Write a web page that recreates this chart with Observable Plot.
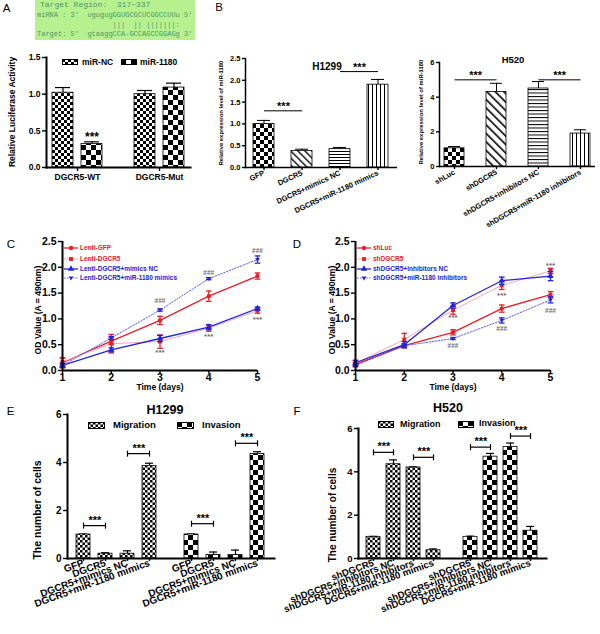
<!DOCTYPE html>
<html><head><meta charset="utf-8">
<script src="https://cdn.jsdelivr.net/npm/d3@7"></script>
<script src="https://cdn.jsdelivr.net/npm/@observablehq/plot@0.6"></script>
<style>
html,body{margin:0;padding:0;background:#fff;}
#root{position:relative;width:600px;height:634px;overflow:hidden;background:#fff;}
g[aria-label$="axis tick"]{stroke-width:1.4px;}
</style></head><body><div id="root"></div>
<script>
// ---------------- DATA ----------------
// Panel A
const aGroups = ["DGCR5-WT", "DGCR5-Mut"];
const aSeries = ["miR-NC", "miR-1180"];
const aNC = [1.02, 1.00];
const aNCErr = [0.07, 0.05];
const a1180 = [0.32, 1.09];
const a1180Err = [0.03, 0.06];
const aTicks = [0, 0.5, 1.0, 1.5];
const seqLines = [
  "Target Region:  317~337",
  "miRNA : 3'  ugugugGGUGCGCUCGGCCUUu 5'",
  "                  |||  || |||||||:",
  "Target: 5'  gtaaggCCA-GCCAGCCGGAGg 3'"
];
// Panel B (H1299)
const b1Cats = ["GFP", "DGCR5", "DGCR5+mimics NC", "DGCR5+miR-1180 mimics"];
const b1Vals = [1.0, 0.38, 0.42, 1.9];
const b1Err = [0.08, 0.04, 0.04, 0.12];
const b1Ticks = [0, 0.5, 1.0, 1.5, 2.0, 2.5];
const b1Sig = [1.3, 2.2];
// Panel B (H520)
const b2Cats = ["shLuc", "shDGCR5", "shDGCR5+inhibitors NC", "shDGCR5+miR-1180 inhibitors"];
const b2Vals = [1.05, 4.3, 4.5, 1.9];
const b2Err = [0.1, 0.5, 0.4, 0.22];
const b2Ticks = [0, 2, 4, 6];
const b2Sig = [5.0, 5.0];
// Panels C / D
const days = [1, 2, 3, 4, 5];
const cNames = ["Lenti-GFP", "Lenti-DGCR5", "Lenti-DGCR5+mimics NC", "Lenti-DGCR5+miR-1180 mimics"];
const cGFP = [0.15, 0.57, 0.97, 1.44, 1.83];
const cGFPErr = [0.1, 0.06, 0.08, 0.1, 0.06];
const cDGCR5 = [0.17, 0.52, 0.56, 0.82, 1.16];
const cDGCR5Err = [0.07, 0.18, 0.13, 0.06, 0.05];
const cNC = [0.1, 0.4, 0.62, 0.84, 1.2];
const cNCErr = [0.04, 0.04, 0.06, 0.05, 0.03];
const cMim = [0.1, 0.63, 1.17, 1.78, 2.15];
const cMimErr = [0.03, 0.03, 0.02, 0.02, 0.07];
const cMarkDays = [3, 4, 5];
const cHashY = [1.34, 1.9, 2.31];
const cStarY = [0.35, 0.66, 0.99];
const dNames = ["shLuc", "shDGCR5", "shDGCR5+inhibitors NC", "shDGCR5+miR-1180 inhibitors"];
const dShLuc = [0.12, 0.48, 0.74, 1.2, 1.47];
const dShLucErr = [0.04, 0.04, 0.05, 0.07, 0.06];
const dShDGCR5 = [0.14, 0.6, 1.17, 1.65, 1.93];
const dShDGCR5Err = [0.05, 0.12, 0.08, 0.08, 0.05];
const dNC = [0.15, 0.5, 1.26, 1.74, 1.83];
const dNCErr = [0.05, 0.06, 0.05, 0.07, 0.09];
const dInh = [0.1, 0.48, 0.62, 0.97, 1.37];
const dInhErr = [0.03, 0.03, 0.02, 0.05, 0.06];
const dStarY = [1.03, 1.45, 2.03];
const dHashY = [0.48, 0.81, 1.16];
const odTicks = [0, 0.5, 1.0, 1.5, 2.0, 2.5];
// Panel E (H1299)
const eGroups = ["Migration", "Invasion"];
const eCats = ["GFP", "DGCR5", "DGCR5+mimics NC", "DGCR5+miR-1180 mimics"];
const eMig = [1.0, 0.2, 0.2, 3.85];
const eMigErr = [0.02, 0.04, 0.12, 0.12];
const eInv = [1.0, 0.15, 0.15, 4.35];
const eInvErr = [0.02, 0.12, 0.2, 0.1];
const eMigSig = [1.37, 4.37];
const eInvSig = [1.45, 4.8];
const cellTicks = [0, 2, 4, 6];
// Panel F (H520)
const fCats = ["shDGCR5", "shDGCR5+inhibitors NC", "shDGCR5+miR-1180 inhibitors", "DGCR5+miR-1180 mimics"];
const fMig = [1.0, 4.35, 4.2, 0.38];
const fMigErr = [0.02, 0.2, 0.03, 0.06];
const fInv = [1.0, 4.7, 5.15, 1.28];
const fInvErr = [0.03, 0.15, 0.18, 0.2];
const fMigSig = [4.9, 4.67];
const fInvSig = [5.14, 5.65];

// ---------------- STYLE ----------------
const SANS = "'Liberation Sans', Arial, sans-serif";
const RED = "#e8202a", BLUE = "#2323dd", PINK = "#f5a9bb", LBLUE = "#4f4ff5", GRAY = "#6e6e6e";
const root = d3.select("#root");

// patterns
const defs = root.append("svg").attr("width", 1).attr("height", 1)
  .style("position", "absolute").style("left", "0px").style("top", "0px").append("defs");
function checker(id, s) {
  const p = defs.append("pattern").attr("id", id).attr("patternUnits", "userSpaceOnUse")
    .attr("width", 2 * s).attr("height", 2 * s);
  p.append("rect").attr("width", 2 * s).attr("height", 2 * s).attr("fill", "#fff");
  p.append("rect").attr("width", s).attr("height", s).attr("fill", "#000");
  p.append("rect").attr("x", s).attr("y", s).attr("width", s).attr("height", s).attr("fill", "#000");
}
function stripes(id, gap, w, rot) {
  const p = defs.append("pattern").attr("id", id).attr("patternUnits", "userSpaceOnUse")
    .attr("width", gap).attr("height", gap).attr("patternTransform", `rotate(${rot})`);
  p.append("rect").attr("width", gap).attr("height", gap).attr("fill", "#fff");
  p.append("rect").attr("width", w).attr("height", gap).attr("fill", "#000");
}
checker("chk25", 2.5); checker("chk3", 3); checker("chk4", 4); checker("chk5", 5);
stripes("diag5", 5, 1.4, -45); stripes("diag6", 6, 1.6, -45);
stripes("hor3", 3, 1, 90); stripes("hor35", 3.5, 1, 90);
stripes("ver4", 4, 1, 0);

const capSym = {draw(ctx, size) { const r = Math.sqrt(size / Math.PI); ctx.moveTo(-r, 0); ctx.lineTo(r, 0); }};
const vSym = {draw(ctx, size) { const r = Math.sqrt(size / Math.PI); ctx.moveTo(0, -r); ctx.lineTo(0, r); }};
const invTri = {draw(ctx, size) { const r = Math.sqrt(size / Math.PI); ctx.moveTo(0, r); ctx.lineTo(-r, -r * 0.65); ctx.lineTo(r, -r * 0.65); ctx.closePath(); }};

const baseStyle = (fs) => ({fontFamily: SANS, fontWeight: "bold", fontSize: fs + "px", background: "transparent", overflow: "visible", color: "#000"});

function place(node, left, top, w) {
  root.append("div").style("position", "absolute").style("left", left + "px").style("top", top + "px")
    .style("width", w + "px").node().appendChild(node);
}
function label(s, x, y, size, opt = {}) {
  const {weight = "bold", color = "#000", anchor = "start", family = SANS} = opt;
  const tx = anchor === "middle" ? "-50%" : anchor === "end" ? "-100%" : "0";
  root.append("div").text(s).style("position", "absolute").style("left", x + "px").style("top", y + "px")
    .style("transform", `translate(${tx},-50%)`).style("white-space", "pre").style("font-family", family)
    .style("font-size", size + "px").style("font-weight", weight).style("color", color).style("line-height", "1");
}
function yLabel(s, cx, cy, size) {
  root.append("div").text(s).style("position", "absolute").style("left", cx + "px").style("top", cy + "px")
    .style("transform", "translate(-50%,-50%) rotate(-90deg)").style("white-space", "nowrap")
    .style("font-family", SANS).style("font-weight", "bold").style("font-size", size + "px").style("line-height", "1");
}
function swatch(x, y, w, h, fill) {
  root.append("svg").attr("width", w).attr("height", h).style("position", "absolute")
    .style("left", x + "px").style("top", (y - h / 2) + "px")
    .append("rect").attr("x", 0.5).attr("y", 0.5).attr("width", w - 1).attr("height", h - 1)
    .attr("fill", fill).attr("stroke", "#000").attr("stroke-width", 1);
}
function lineKey(x, y, st, name) {
  const svg = root.append("svg").attr("width", 16).attr("height", 8).style("position", "absolute")
    .style("left", x + "px").style("top", (y - 4) + "px").style("overflow", "visible");
  svg.append("line").attr("x1", 0).attr("x2", 14).attr("y1", 4).attr("y2", 4)
    .attr("stroke", st.line).attr("stroke-width", st.lw).attr("stroke-dasharray", st.dash || null);
  svg.append("path").attr("transform", "translate(7,4)")
    .attr("d", d3.symbol(st.symbol, Math.PI * st.r * st.r)()).attr("fill", st.color);
  label(name, x + 16, y, 6.5, {color: st.color});
}

// ---------------- PANEL A ----------------
(function () {
  const rows = aGroups.flatMap((g, gi) => [
    {g, s: aSeries[0], v: aNC[gi], e: aNCErr[gi]},
    {g, s: aSeries[1], v: a1180[gi], e: a1180Err[gi]}
  ]);
  const fills = {[aSeries[0]]: "url(#chk3)", [aSeries[1]]: "url(#chk5)"};
  const star = [{g: aGroups[0], s: aSeries[1], y: a1180[0] + a1180Err[0]}];
  const p = Plot.plot({
    width: 200, height: 150, marginTop: 12, marginBottom: 28, marginLeft: 45, marginRight: 10,
    style: baseStyle(8.5),
    fx: {domain: aGroups, paddingInner: 0.25, paddingOuter: 0.0, label: null, axis: "bottom", tickSize: 4, tickPadding: 2},
    x: {domain: aSeries, paddingInner: 0.28, paddingOuter: 0.2, axis: null},
    y: {domain: [0, 1.5], ticks: aTicks, tickFormat: ".1f", label: null, tickSize: 4, tickPadding: 2},
    color: {type: "identity"},
    marks: [
      Plot.ruleX(rows, {fx: "g", x: "s", y1: "v", y2: d => d.v + d.e, strokeWidth: 1.2}),
      Plot.tickY(rows, {fx: "g", x: "s", y: d => d.v + d.e, insetLeft: 3, insetRight: 3, strokeWidth: 1.2}),
      Plot.barY(rows, {fx: "g", x: "s", y: "v", fill: d => fills[d.s], stroke: "#000", strokeWidth: 0.8}),
      Plot.text(star, {fx: "g", x: "s", y: "y", text: () => "***", dy: -1, lineAnchor: "bottom", fontSize: 12}),
      Plot.frame({anchor: "bottom", strokeWidth: 2, facet: "super"}),
      Plot.frame({anchor: "left", strokeWidth: 2, facet: "super"})
    ]
  });
  place(p, 0, 45, 200);
})();

// green sequence box
root.append("div").style("position", "absolute").style("left", "35px").style("top", "0px")
  .style("width", "160px").style("height", "40px").style("background", "#b6f08f");
seqLines.forEach((s, i) => label(s, i === 0 ? 40 : 37, [5, 15, 24.5, 34][i], i === 0 ? 8 : 7,
  {weight: "normal", color: "#4b9a68", family: "'Liberation Mono', 'DejaVu Sans Mono', monospace"}));

// ---------------- PANEL B ----------------
function barPanel(cfg) {
  const rows = cfg.cats.map((c, i) => ({c, v: cfg.vals[i], e: cfg.errs[i], f: cfg.fills[i]}));
  const sig = cfg.sig.map((y, k) => ({a: cfg.cats[2 * k], b: cfg.cats[2 * k + 1], y}));
  const span = cfg.width - cfg.ml - cfg.mr;
  const step = span / (cfg.cats.length - cfg.pi + 2 * cfg.po);
  return Plot.plot({
    width: cfg.width, height: cfg.height, marginTop: cfg.mt, marginBottom: cfg.mb, marginLeft: cfg.ml, marginRight: cfg.mr,
    style: baseStyle(cfg.fs),
    x: {domain: cfg.cats, paddingInner: cfg.pi, paddingOuter: cfg.po, label: null, tickSize: 3, tickPadding: 2, tickRotate: cfg.rot},
    y: {domain: cfg.yDomain, ticks: cfg.ticks, tickFormat: cfg.fmt, label: null, tickSize: 3, tickPadding: 2},
    color: {type: "identity"},
    marks: [
      Plot.ruleX(rows, {x: "c", y1: "v", y2: d => d.v + d.e, strokeWidth: 1}),
      Plot.tickY(rows, {x: "c", y: d => d.v + d.e, insetLeft: cfg.cap, insetRight: cfg.cap, strokeWidth: 1}),
      Plot.barY(rows, {x: "c", y: "v", fill: "f", stroke: "#000", strokeWidth: 0.8}),
      Plot.link(sig, {x1: "a", x2: "b", y1: "y", y2: "y", stroke: "#000", strokeWidth: 1}),
      Plot.text(sig, {x: "a", y: "y", dx: step / 2, dy: -1, text: () => "***", lineAnchor: "bottom", fontSize: cfg.sfs}),
      Plot.ruleY([cfg.yDomain[0]], {strokeWidth: 1.5}),
      Plot.frame({anchor: "left", strokeWidth: 1.5})
    ]
  });
}
place(barPanel({
  cats: b1Cats, vals: b1Vals, errs: b1Err, fills: ["url(#chk4)", "url(#diag5)", "url(#hor3)", "url(#ver4)"],
  sig: b1Sig, yDomain: [0, 2.5], ticks: b1Ticks, fmt: ".1f",
  width: 200, height: 190, mt: 18, mb: 63, ml: 45, mr: 3, pi: 0.44, po: 0.17, rot: -25, fs: 7.5, cap: 4, sfs: 11
}), 200, 40, 200);
place(barPanel({
  cats: b2Cats, vals: b2Vals, errs: b2Err, fills: ["url(#chk4)", "url(#diag6)", "url(#hor35)", "url(#ver4)"],
  sig: b2Sig, yDomain: [0, 6], ticks: b2Ticks, fmt: "d",
  width: 200, height: 190, mt: 22, mb: 64, ml: 39, mr: 5, pi: 0.53, po: 0.11, rot: -30, fs: 7.5, cap: 4, sfs: 11
}), 400, 40, 200);

// ---------------- PANELS C / D ----------------
function linePanel(cfg) {
  const marks = [];
  cfg.series.forEach((vals, k) => {
    const st = cfg.styles[k];
    const rows = days.map((d, i) => ({day: d, v: vals[i]}));
    marks.push(Plot.line(rows, {x: "day", y: "v", stroke: st.line, strokeWidth: st.lw, strokeDasharray: st.dash}));
  });
  cfg.series.forEach((vals, k) => {
    const st = cfg.styles[k];
    const rows = days.map((d, i) => ({day: d, v: vals[i], e: cfg.errs[k][i]}));
    marks.push(
      Plot.ruleX(rows, {x: "day", y1: d => d.v - d.e, y2: d => d.v + d.e, stroke: st.color, strokeWidth: 1.3}),
      Plot.dot(rows, {x: "day", y: d => d.v + d.e, symbol: capSym, r: 2.8, fill: "none", stroke: st.color, strokeWidth: 1.3}),
      Plot.dot(rows, {x: "day", y: d => d.v - d.e, symbol: capSym, r: 2.8, fill: "none", stroke: st.color, strokeWidth: 1.3}),
      Plot.dot(rows, {x: "day", y: "v", symbol: st.symbol, r: st.r, fill: st.color, stroke: "none"})
    );
  });
  const hash = cMarkDays.map((d, i) => ({day: d, y: cfg.hashY[i]}));
  const star = cMarkDays.map((d, i) => ({day: d, y: cfg.starY[i]}));
  marks.push(
    Plot.text(hash, {x: "day", y: "y", text: () => "###", fill: GRAY, fontSize: 6.5}),
    Plot.text(star, {x: "day", y: "y", text: () => "***", fill: GRAY, fontSize: 8}),
    Plot.ruleY([0], {strokeWidth: 2}),
    Plot.ruleX([1], {strokeWidth: 2}),
    Plot.text(["Time (days)"], {frameAnchor: "bottom", dy: 19.5, text: d => d, fontSize: 8.5})
  );
  return Plot.plot({
    width: 300, height: 165, marginTop: 6, marginBottom: 30, marginLeft: cfg.ml, marginRight: cfg.mr,
    style: baseStyle(10.5),
    x: {domain: [1, 5], ticks: days, tickFormat: "d", label: null, tickSize: 3, tickPadding: 0},
    y: {domain: [0, 2.5], ticks: odTicks, tickFormat: ".1f", label: null, tickSize: 4, tickPadding: 2},
    marks
  });
}
const lineStyles = [
  {color: RED, line: RED, lw: 1.3, dash: null, symbol: d3.symbolCircle, r: 2.2},
  {color: RED, line: PINK, lw: 1, dash: null, symbol: d3.symbolSquare, r: 2.2},
  {color: BLUE, line: BLUE, lw: 1.3, dash: null, symbol: d3.symbolTriangle, r: 2.4},
  {color: BLUE, line: LBLUE, lw: 0.9, dash: "1.5,1.5", symbol: invTri, r: 2.4}
];
place(linePanel({series: [cGFP, cDGCR5, cNC, cMim], errs: [cGFPErr, cDGCR5Err, cNCErr, cMimErr],
  styles: lineStyles, hashY: cHashY, starY: cStarY, ml: 62, mr: 43}), 0, 235, 300);
place(linePanel({series: [dShLuc, dShDGCR5, dNC, dInh], errs: [dShLucErr, dShDGCR5Err, dNCErr, dInhErr],
  styles: lineStyles, hashY: dHashY, starY: dStarY, ml: 55, mr: 50}), 300, 235, 300);
[248, 259, 269, 278].forEach((y, i) => lineKey(64, y, lineStyles[i], cNames[i]));
[248, 259, 269, 278].forEach((y, i) => lineKey(357, y, lineStyles[i], dNames[i]));

// ---------------- PANELS E / F ----------------
function groupPanel(cfg) {
  const rows = cfg.groups.flatMap((g, gi) => cfg.cats.map((c, i) => ({g, c, v: cfg.vals[gi][i], e: cfg.errs[gi][i], f: cfg.fills[gi]})));
  const sig = cfg.groups.flatMap((g, gi) => cfg.sig[gi].map((y, k) => ({g, a: cfg.cats[2 * k], b: cfg.cats[2 * k + 1], y})));
  const ends = sig.flatMap(s => [{g: s.g, c: s.a, y: s.y}, {g: s.g, c: s.b, y: s.y}]);
  const span = cfg.width - cfg.ml - cfg.mr;
  const fxStep = span / (cfg.groups.length - cfg.fpi + 2 * cfg.fpo);
  const bw = fxStep * (1 - cfg.fpi);
  const step = bw / (cfg.cats.length - cfg.pi + 2 * cfg.po);
  return Plot.plot({
    width: cfg.width, height: cfg.height, marginTop: cfg.mt, marginBottom: cfg.mb, marginLeft: cfg.ml, marginRight: cfg.mr,
    style: baseStyle(cfg.fs),
    fx: {domain: cfg.groups, paddingInner: cfg.fpi, paddingOuter: cfg.fpo, axis: null, label: null},
    x: {domain: cfg.cats, paddingInner: cfg.pi, paddingOuter: cfg.po, label: null, tickSize: 3, tickPadding: 1, tickRotate: -20},
    y: {domain: [0, 6], ticks: cellTicks, tickFormat: "d", label: null, tickSize: 4, tickPadding: 2},
    color: {type: "identity"},
    marks: [
      Plot.ruleX(rows, {fx: "g", x: "c", y1: "v", y2: d => d.v + d.e, strokeWidth: 1.2}),
      Plot.tickY(rows, {fx: "g", x: "c", y: d => d.v + d.e, insetLeft: 3, insetRight: 3, strokeWidth: 1.2}),
      Plot.barY(rows, {fx: "g", x: "c", y: "v", fill: "f", stroke: "#000", strokeWidth: 0.8}),
      Plot.link(sig, {fx: "g", x1: "a", x2: "b", y1: "y", y2: "y", stroke: "#000", strokeWidth: 1.2}),
      Plot.dot(ends, {fx: "g", x: "c", y: "y", symbol: vSym, r: 3, fill: "none", stroke: "#000", strokeWidth: 1.2}),
      Plot.text(sig, {fx: "g", x: "a", y: "y", dx: step / 2, dy: -2, text: () => "***", lineAnchor: "bottom", fontSize: 11}),
      Plot.frame({anchor: "bottom", strokeWidth: 2, facet: "super"}),
      Plot.frame({anchor: "left", strokeWidth: 2, facet: "super"})
    ]
  });
}
place(groupPanel({groups: eGroups, cats: eCats, vals: [eMig, eInv], errs: [eMigErr, eInvErr],
  fills: ["url(#chk25)", "url(#chk5)"], sig: [eMigSig, eInvSig], fs: 10,
  width: 300, height: 234, mt: 14, mb: 76, ml: 62, mr: 22, fpi: 0.087, fpo: 0.0365, pi: 0.348, po: 0.348}), 0, 400, 300);
place(groupPanel({groups: eGroups, cats: fCats, vals: [fMig, fInv], errs: [fMigErr, fInvErr],
  fills: ["url(#chk25)", "url(#chk5)"], sig: [fMigSig, fInvSig], fs: 9.5,
  width: 300, height: 234, mt: 28, mb: 76, ml: 53, mr: 50, fpi: 0.066, fpo: 0.04, pi: 0.286, po: 0.333}), 300, 400, 300);

// ---------------- TEXT: letters, titles, legends, axis titles ----------------
[["A", 6.5, 9], ["B", 219, 8], ["C", 11, 245], ["D", 297, 245], ["E", 10.5, 412], ["F", 297, 412]]
  .forEach(([s, x, y]) => label(s, x, y, 11.5, {weight: "normal", anchor: "middle"}));

swatch(62, 62, 16, 6, "url(#chk3)"); label(aSeries[0], 82, 62, 8.5);
swatch(121, 62, 16, 6, "url(#chk5)"); label(aSeries[1], 140, 62, 8.5);

label("H1299", 327, 67, 10, {anchor: "middle"});
label("H520", 513, 60, 9.5, {anchor: "middle"});
label("H1299", 165, 410, 12.5, {anchor: "middle"});
label("H520", 448, 408, 12.5, {anchor: "middle"});

swatch(88, 425, 17, 7, "url(#chk25)"); label(eGroups[0], 113, 425, 9.5);
swatch(177, 425, 17, 7, "url(#chk5)"); label(eGroups[1], 202, 425, 9.5);
swatch(378, 424, 16, 7, "url(#chk25)"); label(eGroups[0], 400, 424, 9);
swatch(458, 424, 16, 7, "url(#chk5)"); label(eGroups[1], 479, 423, 9);

yLabel("Relative Luciferase Activity", 12, 112, 8.5);
yLabel("Relative expression level of miR-1180", 222, 113, 5.9);
yLabel("Relative expression level of miR-1180", 422, 112, 5.9);
yLabel("OD Value (A = 490nm)", 38, 310, 8.6);
yLabel("OD Value (A = 490nm)", 332, 310, 8.6);
yLabel("The number of cells", 37, 510, 10.5);
yLabel("The number of cells", 333, 515, 10);
</script></body></html>
